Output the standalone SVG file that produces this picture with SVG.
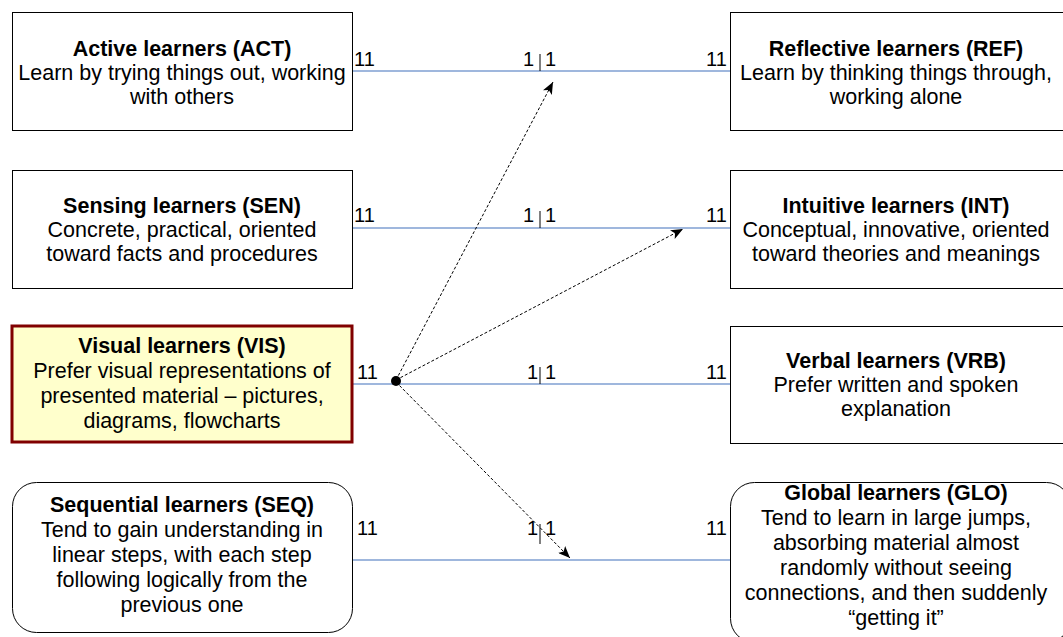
<svg xmlns="http://www.w3.org/2000/svg" width="1063" height="637" viewBox="0 0 1063 637">
<style>
text{font-family:"Liberation Sans",Arial,sans-serif;font-size:21.5px;fill:#000;text-anchor:middle}
.t{font-weight:bold}
.box{fill:#fff;stroke:#000;stroke-width:1}
.vis{fill:#FFFFCC;stroke:#800000;stroke-width:3}
.link{stroke:#7F9FD2;stroke-width:1.5;fill:none}
.dash{stroke:#000;stroke-width:1;stroke-dasharray:3,2;fill:none}
.tick{stroke:#000;stroke-width:1}
.lab{text-anchor:start;font-size:20px}
</style>
<defs>
<marker id="ah" viewBox="0 0 12 10" refX="12" refY="5" markerWidth="12" markerHeight="10" markerUnits="userSpaceOnUse" orient="auto">
<path d="M0,0 L12,5 L0,10 L3,5 Z" fill="#000"/>
</marker>
</defs>
<g id="connectors">
<line class="link" x1="352" y1="71" x2="730" y2="71"/>
<line class="link" x1="352" y1="228" x2="730" y2="228"/>
<line class="link" x1="352" y1="384" x2="730" y2="384"/>
<line class="link" x1="352" y1="560" x2="730" y2="560"/>
<line class="tick" x1="540" y1="54" x2="540" y2="71"/>
<line class="tick" x1="540" y1="211" x2="540" y2="228"/>
<line class="tick" x1="540" y1="367" x2="540" y2="384"/>
<line class="tick" x1="540" y1="524" x2="540" y2="544"/>
<text class="lab" x="354" y="66">11</text><text class="lab" x="523" y="66">1</text><text class="lab" x="545" y="66">1</text><text class="lab" x="706" y="66">11</text>
<text class="lab" x="354" y="222">11</text><text class="lab" x="523" y="222">1</text><text class="lab" x="545" y="222">1</text><text class="lab" x="706" y="222">11</text>
<text class="lab" x="357" y="379">11</text><text class="lab" x="527" y="379">1</text><text class="lab" x="545" y="379">1</text><text class="lab" x="706" y="379">11</text>
<text class="lab" x="357" y="535">11</text><text class="lab" x="527" y="535">1</text><text class="lab" x="545" y="535">1</text><text class="lab" x="706" y="535">11</text>
<line class="dash" x1="396" y1="380" x2="553" y2="82" marker-end="url(#ah)"/>
<line class="dash" x1="396" y1="380" x2="683" y2="229" marker-end="url(#ah)"/>
<line class="dash" x1="396" y1="382" x2="570" y2="558" marker-end="url(#ah)"/>
<circle cx="396" cy="381" r="5" fill="#000"/>
</g>
<g id="ACT">
<rect class="box" x="12.5" y="12.5" width="340" height="118"/>
<text class="t" x="182" y="56">Active learners (ACT)</text>
<text x="182" y="80">Learn by trying things out, working</text>
<text x="182" y="104">with others</text>
</g>
<g id="REF">
<rect class="box" x="730.5" y="12.5" width="340" height="118"/>
<text class="t" x="896" y="56">Reflective learners (REF)</text>
<text x="896" y="80">Learn by thinking things through,</text>
<text x="896" y="104">working alone</text>
</g>
<g id="SEN">
<rect class="box" x="12.5" y="170.5" width="340" height="118"/>
<text class="t" x="182" y="213">Sensing learners (SEN)</text>
<text x="182" y="237">Concrete, practical, oriented</text>
<text x="182" y="261">toward facts and procedures</text>
</g>
<g id="INT">
<rect class="box" x="730.5" y="170.5" width="340" height="118"/>
<text class="t" x="896" y="213">Intuitive learners (INT)</text>
<text x="896" y="237">Conceptual, innovative, oriented</text>
<text x="896" y="261">toward theories and meanings</text>
</g>
<g id="VIS">
<rect class="vis" x="12" y="326" width="340" height="116"/>
<text class="t" x="182" y="353">Visual learners (VIS)</text>
<text x="182" y="378">Prefer visual representations of</text>
<text x="182" y="403">presented material – pictures,</text>
<text x="182" y="428">diagrams, flowcharts</text>
</g>
<g id="VRB">
<rect class="box" x="730.5" y="326.5" width="340" height="117"/>
<text class="t" x="896" y="368">Verbal learners (VRB)</text>
<text x="896" y="392">Prefer written and spoken</text>
<text x="896" y="416">explanation</text>
</g>
<g id="SEQ">
<rect class="box" x="12.5" y="482.5" width="340" height="150" rx="24" ry="24"/>
<text class="t" x="182" y="512">Sequential learners (SEQ)</text>
<text x="182" y="537">Tend to gain understanding in</text>
<text x="182" y="562">linear steps, with each step</text>
<text x="182" y="587">following logically from the</text>
<text x="182" y="612">previous one</text>
</g>
<g id="GLO">
<rect class="box" x="730.5" y="482.5" width="340" height="160" rx="24" ry="24"/>
<text class="t" x="896" y="500">Global learners (GLO)</text>
<text x="896" y="525">Tend to learn in large jumps,</text>
<text x="896" y="550">absorbing material almost</text>
<text x="896" y="575">randomly without seeing</text>
<text x="896" y="600">connections, and then suddenly</text>
<text x="896" y="625">“getting it”</text>
</g>
</svg>
